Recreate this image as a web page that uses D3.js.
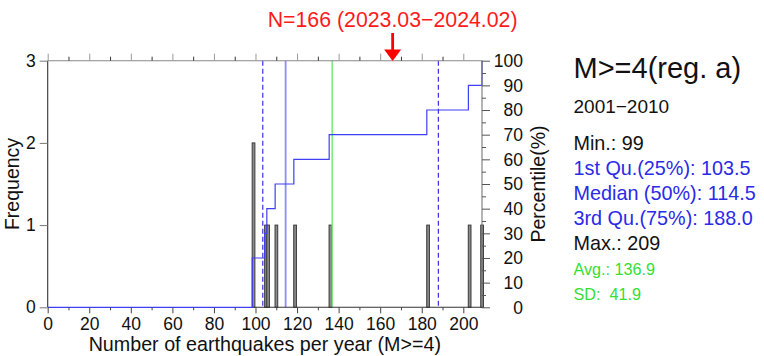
<!DOCTYPE html>
<html><head><meta charset="utf-8">
<script src="https://cdn.jsdelivr.net/npm/d3@7"></script>
<style>
html,body{margin:0;padding:0;background:#fff;}
svg{display:block;font-family:"Liberation Sans",Arial,Helvetica,sans-serif;}
</style></head>
<body>
<svg id="chart" width="764" height="356"></svg>
<script>
// ---- data ----
const annualCounts = [99, 99, 105, 106, 110, 119, 136, 183, 203, 209];
const xTicks = [0, 20, 40, 60, 80, 100, 120, 140, 160, 180, 200];
const xMinorTicks = [10, 30, 50, 70, 90, 110, 130, 150, 170, 190];
const freqTicks = [0, 1, 2, 3];
const pctTicks = [0, 10, 20, 30, 40, 50, 60, 70, 80, 90, 100];
const pctMinorTicks = [5, 15, 25, 35, 45, 55, 65, 75, 85, 95];
const statLabels = ["Min.: 99", "1st Qu.(25%): 103.5", "Median (50%): 114.5", "3rd Qu.(75%): 188.0", "Max.: 209"];
const statKinds = ["plain", "quart", "quart", "quart", "plain"];
const extraLabels = ["Avg.: 136.9", "SD:\u00a0 41.9"];
const q1Value = 103.5, medianValue = 114.5, q3Value = 188.0, avgValue = 136.9;
const currentN = 166;
const currentLabel = "N=166 (2023.03\u22122024.02)";
const titleText = "M>=4(reg. a)";
const periodText = "2001\u22122010";

// ---- layout ----
const svg = d3.select("#chart");
const L = 47.7, R = 482, T = 60.7, B = 307.3;
const x = d3.scaleLinear().domain([0, 209]).range([L, R]);
const y = d3.scaleLinear().domain([0, 3]).range([B, T]);
const yp = d3.scaleLinear().domain([0, 100]).range([B, T]);
const BLUE = "#2a2ae8", LBLUE = "#8c8cff", GREEN = "#33e033", GRN_LINE = "#7ae87a";

// histogram counts
const counts = Array.from(d3.rollup(annualCounts, v => v.length, d => d), ([v, c]) => ({v, c})).sort((a,b)=>a.v-b.v);

// bars
svg.append("g").selectAll("rect").data(counts).join("rect")
  .attr("x", d => x(d.v - 0.6))
  .attr("width", d => x(d.v + 0.7) - x(d.v - 0.6))
  .attr("y", d => y(d.c))
  .attr("height", d => y(0) - y(d.c))
  .attr("fill", "#8c8c8c").attr("stroke", "#3a3a3a").attr("stroke-width", 1);

// vertical reference lines
function vline(v, color, width, dash) {
  const l = svg.append("line").attr("x1", x(v)).attr("x2", x(v)).attr("y1", T).attr("y2", B)
    .attr("stroke", color).attr("stroke-width", width);
  if (dash) l.attr("stroke-dasharray", dash);
}
vline(q1Value, "#3333ee", 1.2, "5,3");
vline(q3Value, "#3333ee", 1.2, "5,3");
vline(medianValue, LBLUE, 1.8);
vline(avgValue, GRN_LINE, 1.5);

// ECDF step line
const n = annualCounts.length;
const stepPts = [[0, 0]];
counts.reduce((acc, d) => {
  const next = acc + d.c;
  stepPts.push([d.v - 0.55, acc / n * 100]);
  stepPts.push([d.v - 0.55, next / n * 100]);
  return next;
}, 0);
stepPts[stepPts.length - 1][0] = 209; stepPts[stepPts.length - 2][0] = 209;
svg.append("path").datum(stepPts)
  .attr("d", d3.line().x(d => x(Math.min(d[0], 209))).y(d => yp(d[1])))
  .attr("fill", "none").attr("stroke", "#3f3ff5").attr("stroke-width", 1.2);

// frame
const frame = svg.append("g").attr("stroke-width", 1.1).attr("fill", "none");
frame.append("line").attr("x1", L).attr("x2", L).attr("y1", T).attr("y2", B).attr("stroke", "#333");
frame.append("line").attr("x1", R).attr("x2", R).attr("y1", T).attr("y2", B).attr("stroke", "#777");
frame.append("line").attr("x1", L).attr("x2", R).attr("y1", T).attr("y2", T).attr("stroke", "#888");
frame.append("line").attr("x1", x(99)).attr("x2", R).attr("y1", B).attr("y2", B).attr("stroke", "#333");

// bottom axis
const axB = svg.append("g").attr("transform", `translate(0,${B})`)
  .call(d3.axisBottom(x).tickValues(xTicks).tickSize(6).tickPadding(4).tickFormat(d3.format("d")));
axB.select(".domain").remove();
axB.selectAll("line").attr("stroke", "#444");
axB.selectAll("text").attr("font-size", "17.5px").attr("fill", "#111").attr("font-family", null);
const axBm = svg.append("g").attr("transform", `translate(0,${B})`)
  .call(d3.axisBottom(x).tickValues(xMinorTicks).tickSize(3).tickFormat(""));
axBm.select(".domain").remove(); axBm.selectAll("line").attr("stroke", "#444");

// top axis
const axT = svg.append("g").attr("transform", `translate(0,${T})`)
  .call(d3.axisTop(x).tickValues(xTicks).tickSize(7).tickFormat(""));
axT.select(".domain").remove(); axT.selectAll("line").attr("stroke", "#999");
const axTm = svg.append("g").attr("transform", `translate(0,${T})`)
  .call(d3.axisTop(x).tickValues(xMinorTicks).tickSize(4).tickFormat(""));
axTm.select(".domain").remove(); axTm.selectAll("line").attr("stroke", "#333");

// left axis
const axL = svg.append("g").attr("transform", `translate(${L},0)`)
  .call(d3.axisLeft(y).tickValues(freqTicks).tickSize(8).tickPadding(4).tickFormat(d3.format("d")));
axL.select(".domain").remove();
axL.selectAll("line").attr("stroke", "#777");
axL.selectAll("text").attr("font-size", "17.5px").attr("fill", "#111").attr("font-family", null);

// right axis (percentile)
const axR = svg.append("g").attr("transform", `translate(${R},0)`)
  .call(d3.axisRight(yp).tickValues(pctTicks).tickSize(8).tickFormat(""));
axR.select(".domain").remove(); axR.selectAll("line").attr("stroke", "#555");
const axRm = svg.append("g").attr("transform", `translate(${R},0)`)
  .call(d3.axisRight(yp).tickValues(pctMinorTicks).tickSize(4).tickFormat(""));
axRm.select(".domain").remove(); axRm.selectAll("line").attr("stroke", "#555");
svg.append("g").selectAll("text").data(pctTicks).join("text")
  .attr("x", 523).attr("y", d => yp(d)).attr("dy", "0.36em")
  .attr("text-anchor", "end").attr("font-size", "17.5px").attr("fill", "#111")
  .text(d => d);

// axis titles
svg.append("text").attr("transform", `translate(19,${(T+B)/2}) rotate(-90)`)
  .attr("text-anchor", "middle").attr("font-size", "19.5px").attr("fill", "#111").text("Frequency");
svg.append("text").attr("transform", `translate(545,${(T+B)/2}) rotate(-90)`)
  .attr("text-anchor", "middle").attr("font-size", "19.5px").attr("fill", "#111").text("Percentile(%)");
svg.append("text").attr("x", (L+R)/2).attr("y", 351)
  .attr("text-anchor", "middle").attr("font-size", "19.7px").attr("fill", "#111")
  .text("Number of earthquakes per year (M>=4)");

// current value marker
svg.append("text").attr("x", x(currentN)).attr("y", 27)
  .attr("text-anchor", "middle").attr("font-size", "21.3px").attr("fill", "#ff1a1a").text(currentLabel);
svg.append("line").attr("x1", x(currentN)).attr("x2", x(currentN)).attr("y1", 33).attr("y2", 51)
  .attr("stroke", "#ff0000").attr("stroke-width", 2.8);
svg.append("path")
  .attr("d", `M${x(currentN)-8.5},49.5 L${x(currentN)+8.5},49.5 L${x(currentN)},61 Z`)
  .attr("fill", "#ff0000");

// stats panel
const PX = 573.5;
svg.append("text").attr("x", PX).attr("y", 78).attr("font-size", "29px").attr("fill", "#111").text(titleText);
svg.append("text").attr("x", PX).attr("y", 112.5).attr("font-size", "19px").attr("fill", "#111").text(periodText);
svg.append("g").selectAll("text").data(statLabels).join("text")
  .attr("x", PX).attr("y", (d, i) => 150 + i * 25.1)
  .attr("font-size", "19.8px")
  .attr("fill", (d, i) => statKinds[i] === "quart" ? BLUE : "#111")
  .text(d => d);
svg.append("g").selectAll("text").data(extraLabels).join("text")
  .attr("x", PX).attr("y", (d, i) => 275 + i * 24.5)
  .attr("font-size", "16.2px").attr("fill", GREEN)
  .text(d => d);
</script>
</body></html>
